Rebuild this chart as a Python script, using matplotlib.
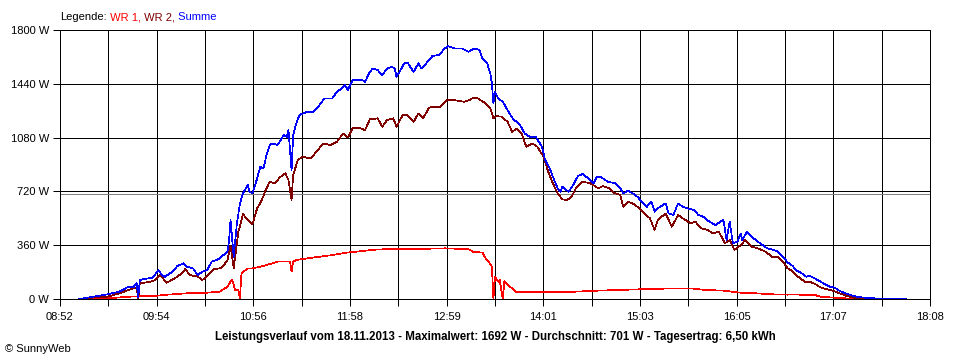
import matplotlib
matplotlib.use("Agg")
import matplotlib.pyplot as plt
import numpy as np

# ---------------- data ----------------
x_tick_labels = ["08:52", "09:54", "10:56", "11:58", "12:59",
                 "14:01", "15:03", "16:05", "17:07", "18:08"]
x_start = "08:52"
x_end = "18:08"
y_ticks = [0, 360, 720, 1080, 1440, 1800]
average_w = 701

summe_t = [
    "09:04", "09:11", "09:22", "09:30", "09:35", "09:39", "09:41", "09:42", "09:43", "09:48",
    "09:51", "09:55", "09:57", "09:59", "10:04", "10:07", "10:11", "10:13", "10:17", "10:20",
    "10:23", "10:26", "10:29", "10:34", "10:36", "10:39", "10:40", "10:41", "10:43", "10:45",
    "10:47", "10:49", "10:52", "10:53", "10:55", "10:58", "11:00", "11:02", "11:04", "11:06",
    "11:08", "11:11", "11:13", "11:15", "11:17", "11:18", "11:20", "11:21", "11:23", "11:25",
    "11:30", "11:34", "11:37", "11:41", "11:46", "11:49", "11:52", "11:54", "11:56", "11:59",
    "12:05", "12:07", "12:10", "12:12", "12:15", "12:18", "12:21", "12:24", "12:26", "12:27",
    "12:29", "12:32", "12:34", "12:38", "12:41", "12:43", "12:47", "12:50", "12:54", "12:58",
    "13:00", "13:04", "13:09", "13:13", "13:17", "13:20", "13:22", "13:25", "13:27", "13:28",
    "13:29", "13:30", "13:32", "13:35", "13:38", "13:42", "13:44", "13:46", "13:49", "13:52",
    "13:56", "14:00", "14:02", "14:05", "14:07", "14:10", "14:12", "14:13", "14:17", "14:20",
    "14:23", "14:26", "14:31", "14:33", "14:35", "14:38", "14:42", "14:47", "14:50", "14:52",
    "14:55", "14:58", "15:01", "15:04", "15:07", "15:10", "15:12", "15:14", "15:19", "15:21",
    "15:24", "15:27", "15:30", "15:33", "15:37", "15:40", "15:43", "15:47", "15:51", "15:54",
    "15:56", "15:58", "16:00", "16:02", "16:05", "16:07", "16:08", "16:11", "16:14", "16:18",
    "16:21", "16:24", "16:28", "16:31", "16:34", "16:37", "16:40", "16:43", "16:46", "16:49",
    "16:51", "16:55", "16:58", "17:01", "17:04", "17:07", "17:10", "17:14", "17:17", "17:21",
    "17:26", "17:33", "17:39", "17:48", "17:53",
]
summe_w = [
    0, 11, 31, 49, 78, 80, 105, 10, 127, 138,
    140, 194, 160, 149, 183, 221, 239, 216, 205, 160,
    183, 194, 250, 270, 290, 316, 383, 528, 283, 500,
    640, 707, 763, 718, 707, 807, 885, 874, 963, 1030,
    1041, 1030, 1064, 1097, 1086, 1130, 863, 1097, 1175, 1231,
    1253, 1253, 1286, 1342, 1342, 1387, 1409, 1432, 1398, 1465,
    1465, 1454, 1520, 1543, 1532, 1498, 1543, 1554, 1543, 1487,
    1520, 1577, 1583, 1520, 1577, 1543, 1588, 1626, 1632, 1677,
    1692, 1677, 1677, 1654, 1677, 1666, 1610, 1577, 1510, 1443,
    1309, 1387, 1342, 1320, 1264, 1197, 1186, 1164, 1108, 1086,
    1086, 1019, 930, 874, 818, 741, 718, 751, 718, 763,
    823, 836, 796, 774, 818, 814, 785, 774, 741, 707,
    724, 707, 684, 651, 617, 651, 584, 607, 640, 573,
    562, 640, 617, 607, 596, 562, 551, 517, 495, 517,
    528, 395, 517, 373, 383, 439, 395, 450, 417, 383,
    361, 339, 328, 316, 283, 245, 223, 189, 172, 149,
    156, 134, 116, 98, 82, 76, 56, 38, 27, 15,
    9, 4, 2, 1, 0,
]

wr2_t = [
    "09:04", "09:11", "09:22", "09:30", "09:37", "09:41", "09:42", "09:43", "09:50", "09:53",
    "09:56", "10:00", "10:07", "10:11", "10:12", "10:15", "10:20", "10:23", "10:26", "10:30",
    "10:34", "10:36", "10:39", "10:41", "10:43", "10:46", "10:49", "10:52", "10:55", "10:58",
    "11:01", "11:03", "11:06", "11:09", "11:13", "11:16", "11:18", "11:20", "11:21", "11:24",
    "11:27", "11:32", "11:36", "11:40", "11:45", "11:49", "11:53", "11:56", "11:59", "12:04",
    "12:07", "12:10", "12:15", "12:18", "12:21", "12:25", "12:27", "12:31", "12:34", "12:38",
    "12:41", "12:44", "12:48", "12:55", "12:59", "13:04", "13:10", "13:14", "13:16", "13:19",
    "13:24", "13:27", "13:29", "13:31", "13:34", "13:38", "13:41", "13:44", "13:47", "13:50",
    "13:54", "13:57", "14:01", "14:04", "14:07", "14:10", "14:13", "14:16", "14:19", "14:22",
    "14:26", "14:31", "14:36", "14:39", "14:43", "14:46", "14:50", "14:52", "14:55", "14:58",
    "15:01", "15:05", "15:09", "15:12", "15:14", "15:19", "15:23", "15:27", "15:30", "15:35",
    "15:38", "15:42", "15:46", "15:49", "15:53", "15:57", "16:00", "16:03", "16:07", "16:10",
    "16:14", "16:18", "16:23", "16:27", "16:31", "16:34", "16:37", "16:39", "16:42", "16:45",
    "16:48", "16:51", "16:55", "16:58", "17:02", "17:06", "17:10", "17:15", "17:19", "17:25",
    "17:28",
]
wr2_w = [
    0, 8, 15, 38, 65, 78, 5, 105, 116, 127,
    165, 108, 149, 183, 200, 160, 150, 127, 155, 198,
    205, 216, 261, 355, 205, 450, 568, 528, 500, 607,
    662, 718, 785, 774, 818, 841, 796, 662, 830, 930,
    952, 941, 985, 1041, 1030, 1052, 1108, 1080, 1142, 1142,
    1130, 1202, 1209, 1153, 1197, 1209, 1153, 1231, 1231, 1186,
    1242, 1209, 1282, 1286, 1331, 1331, 1320, 1331, 1347, 1342,
    1309, 1276, 1209, 1224, 1220, 1186, 1119, 1142, 1108, 1019,
    1041, 1019, 952, 852, 774, 707, 667, 662, 684, 747,
    785, 774, 741, 756, 741, 711, 696, 617, 651, 640,
    617, 577, 540, 462, 528, 573, 484, 562, 540, 506,
    517, 473, 462, 439, 450, 373, 395, 328, 361, 395,
    350, 339, 316, 283, 283, 250, 205, 194, 165, 138,
    116, 116, 98, 78, 65, 56, 38, 20, 9, 3,
    0,
]

wr1_t = [
    "09:04", "09:22", "09:28", "09:35", "09:54", "09:58", "10:13", "10:26", "10:34", "10:39",
    "10:41", "10:42", "10:44", "10:46", "10:47", "10:48", "10:52", "10:55", "11:00", "11:04",
    "11:11", "11:16", "11:19", "11:20", "11:21", "11:23", "11:30", "11:38", "11:46", "11:55",
    "12:01", "12:07", "12:15", "12:37", "12:58", "13:13", "13:16", "13:22", "13:24", "13:26",
    "13:28", "13:29", "13:30", "13:32", "13:33", "13:35", "13:36", "13:38", "13:41", "13:43",
    "13:51", "14:13", "14:36", "15:03", "15:24", "15:35", "15:45", "15:56", "16:07", "16:17",
    "16:28", "16:37", "16:42", "16:48", "16:55", "16:58", "17:07", "17:16", "17:26",
]
wr1_w = [
    0, 5, 9, 15, 22, 27, 38, 42, 49, 82,
    116, 127, 60, 60, 5, 172, 205, 205, 216, 227,
    250, 250, 250, 183, 250, 261, 272, 283, 294, 310,
    316, 323, 332, 334, 339, 334, 316, 310, 272, 250,
    216, 0, 149, 116, 127, 0, 120, 94, 71, 49,
    49, 45, 56, 65, 71, 71, 60, 56, 42, 38,
    31, 29, 31, 27, 25, 15, 9, 3, 0,
]

legend_parts = [("Legende:", "#000000"), (" WR 1,", "#FF0000"),
                (" WR 2,", "#800000"), (" Summe", "#0000FF")]
footer = ("Leistungsverlauf vom 18.11.2013 - Maximalwert: 1692 W - "
          "Durchschnitt: 701 W - Tagesertrag: 6,50 kWh")
copyright_text = "\u00a9 SunnyWeb"

# ---------------- drawing ----------------
FONT = ["Liberation Sans", "DejaVu Sans"]
plt.rcParams["font.family"] = FONT

PX = 0.72  # one pixel at 100 dpi, in points


def to_min(s):
    h, m = s.split(":")
    return int(h) * 60 + int(m)


W, H = 960, 360
fig = plt.figure(figsize=(W / 100, H / 100), dpi=100)
fig.patch.set_facecolor("white")
ax = fig.add_axes([60 / W, 61 / H, 870 / W, 269 / H])

x0, x1 = to_min(x_start), to_min(x_end)
ax.set_xlim(x0, x1)
ax.set_ylim(0, 1800)

major = np.linspace(x0, x1, len(x_tick_labels))
minor = np.linspace(x0, x1, 2 * len(x_tick_labels) - 1)
ax.set_xticks(major)
ax.set_xticklabels(x_tick_labels, fontsize=8)
ax.set_xticks(minor, minor=True)
ax.set_yticks(y_ticks)
ax.set_yticklabels([f"{v} W" for v in y_ticks], fontsize=8)

ax.tick_params(axis="both", which="both", direction="out", length=5,
               width=PX, color="black", pad=3)
ax.tick_params(axis="x", which="major", pad=4)
ax.grid(True, which="both", axis="x", color="black", lw=PX, antialiased=False)
ax.grid(True, which="major", axis="y", color="black", lw=PX, antialiased=False)
ax.set_axisbelow(True)
for sp in ax.spines.values():
    sp.set_color("black")
    sp.set_linewidth(PX)
    sp.set_antialiased(False)

ax.axhline(average_w, color="#808080", lw=PX, zorder=1.5, antialiased=False)

LW = 0.5
ax.plot([to_min(t) for t in wr1_t], wr1_w, color="#FF0000", lw=LW, zorder=3,
        antialiased=False)
ax.plot([to_min(t) for t in wr2_t], wr2_w, color="#800000", lw=LW, zorder=4,
        antialiased=False)
ax.plot([to_min(t) for t in summe_t], summe_w, color="#0000FF", lw=LW,
        zorder=5, antialiased=False)

# legend line at top
fig.canvas.draw()
renderer = fig.canvas.get_renderer()
xpos = 60
for txt, col in legend_parts:
    t = fig.text(xpos / W, 1 - 17 / H, txt, color=col, fontsize=8,
                 ha="left", va="center")
    xpos += t.get_window_extent(renderer=renderer).width

fig.text(495 / W, 1 - 337 / H, footer, fontsize=8.3, fontweight="bold",
         ha="center", va="center")
fig.text(5 / W, 1 - 349 / H, copyright_text, fontsize=8, ha="left",
         va="center")

fig.savefig("out.png", dpi=100, facecolor="white")
